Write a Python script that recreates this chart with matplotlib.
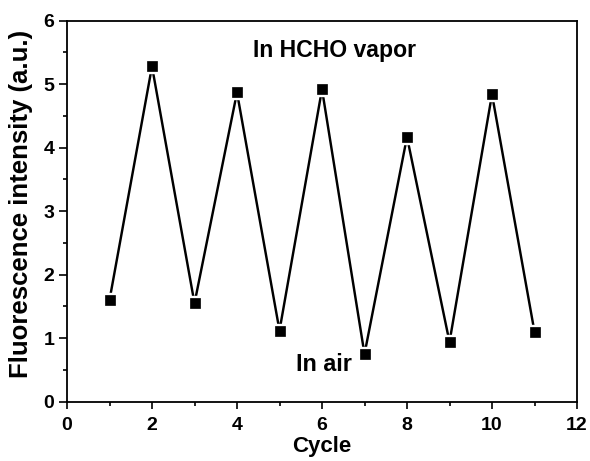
import matplotlib
matplotlib.use("Agg")
import matplotlib.pyplot as plt
from matplotlib.ticker import MultipleLocator

plt.rcParams['font.family'] = ['Liberation Sans', 'DejaVu Sans']
plt.rcParams['font.weight'] = 'bold'

cycle = [1, 2, 3, 4, 5, 6, 7, 8, 9, 10, 11]
intensity = [1.60, 5.28, 1.55, 4.87, 1.12, 4.92, 0.75, 4.17, 0.94, 4.84, 1.10]

fig = plt.figure(figsize=(5.9, 4.61), dpi=100)
ax = fig.add_axes([67/590, 1 - 401.7/461, (577-67)/590, (401.7-20.7)/461])

# connecting line
ax.plot(cycle, intensity, color='black', linewidth=1.75, solid_joinstyle='miter', zorder=2)
# white halo so the line stops just short of each symbol
ax.plot(cycle, intensity, linestyle='none', marker='s', markersize=10.2,
        markerfacecolor='white', markeredgecolor='white', zorder=3)
# symbols
ax.plot(cycle, intensity, linestyle='none', marker='s', markersize=7.9,
        markerfacecolor='black', markeredgecolor='black', markeredgewidth=0.5, zorder=4)

ax.set_xlim(0, 12)
ax.set_ylim(0, 6)
ax.xaxis.set_major_locator(MultipleLocator(2))
ax.xaxis.set_minor_locator(MultipleLocator(1))
ax.yaxis.set_major_locator(MultipleLocator(1))
ax.yaxis.set_minor_locator(MultipleLocator(0.5))
ax.tick_params(which='both', direction='out', top=False, right=False, width=1.2)
ax.tick_params(axis='x', which='major', length=4.8, pad=6.0, labelsize=14)
ax.tick_params(axis='y', which='major', length=5.5, pad=3.5, labelsize=14)
ax.tick_params(which='minor', length=2.6)
for lab in ax.get_xticklabels() + ax.get_yticklabels():
    lab.set_fontweight('bold')
for s in ax.spines.values():
    s.set_linewidth(1.3)

ax.set_xlabel('Cycle', fontsize=16, fontweight='bold')
ax.xaxis.set_label_coords(0.5, -0.090)
ax.set_ylabel('Fluorescence intensity (a.u.)', fontsize=18.5, fontweight='bold')
ax.yaxis.set_label_coords(-0.066, 0.519)

ax.text(6.30, 5.43, 'In HCHO vapor', fontsize=16.6, fontweight='bold', ha='center', va='baseline')
ax.text(6.05, 0.48, 'In air', fontsize=16.8, fontweight='bold', ha='center', va='baseline')

fig.savefig('out.png', dpi=100)
